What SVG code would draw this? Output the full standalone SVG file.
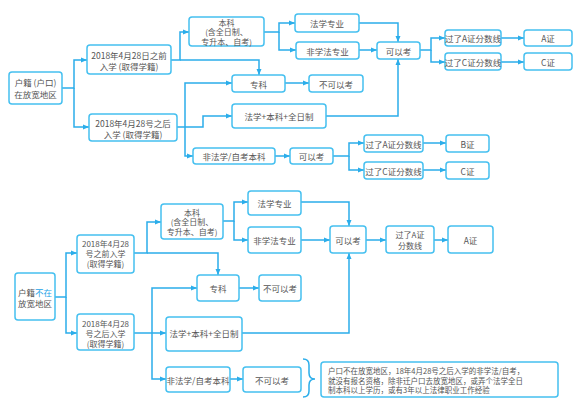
<svg xmlns="http://www.w3.org/2000/svg" width="584" height="415" viewBox="0 0 584 415">
<style>
.b{fill:#fff;stroke:#45c0f0;stroke-width:1.5}
.t{font-family:"Noto Sans CJK SC","Noto Sans",sans-serif;font-size:8.5px;fill:#555;text-anchor:middle;dominant-baseline:central}
.s{font-size:8px}
.n{font-family:"Noto Sans CJK SC","Noto Sans",sans-serif;font-size:7.5px;fill:#555}
.c path{fill:none;stroke:#2badea;stroke-width:1.5}
.c path.a{marker-end:url(#ar)}
</style>
<defs>
<marker id="ar" markerUnits="userSpaceOnUse" markerWidth="7" markerHeight="6" refX="6" refY="3" orient="auto">
<path d="M0,0.5 L6,3 L0,5.5 z" fill="#2badea"/>
</marker>
</defs>
<rect width="584" height="415" fill="#fff"/>
<g class="c" id="connectors">
<path class="a" d="M62,88 H74 V60 H87"/>
<path class="a" d="M74,88 V127 H89"/>
<path class="a" d="M171,60 H180 V32 H189"/>
<path class="a" d="M180,60 H259 V75"/>
<path class="a" d="M264,32 H279 V23 H295"/>
<path class="a" d="M279,32 V50 H296"/>
<path class="a" d="M359,23 H398 V42"/>
<path class="a" d="M359,50 H377"/>
<path class="a" d="M420,50 H431 V38 H445"/>
<path class="a" d="M431,50 V62 H445"/>
<path class="a" d="M501,38 H524"/>
<path class="a" d="M501,62 H524"/>
<path class="a" d="M285,83 H309"/>
<path class="a" d="M177,127 H203 V116 H232"/>
<path class="a" d="M185,127 V83 H232"/>
<path class="a" d="M185,127 V156 H193"/>
<path class="a" d="M326,116 H398 V59"/>
<path class="a" d="M275,156 H290"/>
<path class="a" d="M333,156 H349 V143 H364"/>
<path class="a" d="M349,156 V170 H364"/>
<path class="a" d="M423,143 H446"/>
<path class="a" d="M423,170 H446"/>
<path class="a" d="M55,297 H66 V253 H77"/>
<path class="a" d="M66,297 V333 H77"/>
<path class="a" d="M134,253 H147 V222 H161"/>
<path class="a" d="M147,253 H218 V275"/>
<path class="a" d="M223,221 H234 V202 H248"/>
<path class="a" d="M234,221 V240 H248"/>
<path class="a" d="M301,202 H349 V226"/>
<path class="a" d="M301,240 H330"/>
<path class="a" d="M366,240 H386"/>
<path class="a" d="M434,240 H448"/>
<path class="a" d="M239,288 H259"/>
<path class="a" d="M134,333 H166"/>
<path class="a" d="M152,333 V288 H197"/>
<path class="a" d="M152,333 V379 H166"/>
<path class="a" d="M242,333 H349 V253"/>
<path class="a" d="M230,379 H243"/>
<path d="M303,359 Q309,359 309,365 V373 Q309,379 315,379 Q309,379 309,385 V391 Q309,397 303,397"/>
</g>
<g id="root1"><rect class="b" x="9" y="72" width="53" height="32" rx="3"/><text class="t" x="35.5" y="82">户籍 (户口)</text><text class="t" x="35.5" y="94">在放宽地区</text></g>
<g id="before1"><rect class="b" x="87" y="45" width="84" height="29" rx="3"/><text class="t" x="129" y="55">2018年4月28日之前</text><text class="t" x="129" y="66">入学 (取得学籍)</text></g>
<g id="after1"><rect class="b" x="89" y="114" width="88" height="27" rx="3"/><text class="t" x="133" y="123">2018年4月28号之后</text><text class="t" x="133" y="134">入学 (取得学籍)</text></g>
<g id="benke1"><rect class="b" x="189" y="17" width="75" height="29" rx="3"/><text class="t s" x="226.5" y="22">本科</text><text class="t s" x="226.5" y="31.5">(含全日制、</text><text class="t s" x="226.5" y="41">专升本、自考)</text></g>
<g id="faxue1"><rect class="b" x="295" y="14" width="64" height="18" rx="3"/><text class="t" x="327" y="23">法学专业</text></g>
<g id="feifaxue1"><rect class="b" x="296" y="42" width="63" height="17" rx="3"/><text class="t" x="327.5" y="50.5">非学法专业</text></g>
<g id="keyi1"><rect class="b" x="377" y="42" width="43" height="17" rx="3"/><text class="t" x="398.5" y="50.5">可以考</text></g>
<g id="guoA1"><rect class="b" x="445" y="30" width="56" height="16" rx="3"/><text class="t" x="473" y="38">过了A证分数线</text></g>
<g id="guoC1"><rect class="b" x="445" y="53" width="56" height="17" rx="3"/><text class="t" x="473" y="61.5">过了C证分数线</text></g>
<g id="A1"><rect class="b" x="524" y="30" width="48" height="16" rx="3"/><text class="t" x="548" y="38">A证</text></g>
<g id="C1"><rect class="b" x="524" y="53" width="48" height="17" rx="3"/><text class="t" x="548" y="61.5">C证</text></g>
<g id="zhuanke1"><rect class="b" x="232" y="75" width="53" height="17" rx="3"/><text class="t" x="258.5" y="83.5">专科</text></g>
<g id="bukeyi1"><rect class="b" x="309" y="75" width="54" height="17" rx="3"/><text class="t" x="336" y="83.5">不可以考</text></g>
<g id="fbq1"><rect class="b" x="232" y="104" width="94" height="24" rx="3"/><text class="t" x="279" y="116">法学+本科+全日制</text></g>
<g id="fzk1"><rect class="b" x="193" y="148" width="82" height="16" rx="3"/><text class="t" x="234" y="156">非法学/自考本科</text></g>
<g id="keyi2"><rect class="b" x="290" y="148" width="43" height="16" rx="3"/><text class="t" x="311.5" y="156">可以考</text></g>
<g id="guoA2"><rect class="b" x="364" y="135" width="59" height="17" rx="3"/><text class="t" x="393.5" y="143.5">过了A证分数线</text></g>
<g id="guoC2"><rect class="b" x="364" y="162" width="59" height="17" rx="3"/><text class="t" x="393.5" y="170.5">过了C证分数线</text></g>
<g id="B2"><rect class="b" x="446" y="135" width="43" height="17" rx="3"/><text class="t" x="467.5" y="143.5">B证</text></g>
<g id="C2"><rect class="b" x="446" y="162" width="43" height="17" rx="3"/><text class="t" x="467.5" y="170.5">C证</text></g>
<g id="root2"><rect class="b" x="15" y="273" width="40" height="47" rx="3"/><text class="t" x="35" y="292">户籍<tspan fill="#1aa3e8">不在</tspan></text><text class="t" x="35" y="303">放宽地区</text></g>
<g id="before2"><rect class="b" x="77" y="235" width="57" height="38" rx="3"/><text class="t s" x="105.5" y="243.5">2018年4月28</text><text class="t s" x="105.5" y="253.5">号之前入学</text><text class="t s" x="105.5" y="263.5">(取得学籍)</text></g>
<g id="after2"><rect class="b" x="77" y="314" width="57" height="36" rx="3"/><text class="t s" x="105.5" y="323">2018年4月28</text><text class="t s" x="105.5" y="333">号之后入学</text><text class="t s" x="105.5" y="343">(取得学籍)</text></g>
<g id="benke2"><rect class="b" x="161" y="204" width="62" height="35" rx="3"/><text class="t s" x="192" y="212">本科</text><text class="t s" x="192" y="221.5">(含全日制、</text><text class="t s" x="192" y="231">专升本、自考)</text></g>
<g id="faxue2"><rect class="b" x="248" y="191" width="53" height="24" rx="3"/><text class="t" x="274.5" y="203">法学专业</text></g>
<g id="feifaxue2"><rect class="b" x="248" y="227" width="53" height="26" rx="3"/><text class="t" x="274.5" y="240">非学法专业</text></g>
<g id="keyi3"><rect class="b" x="330" y="226" width="36" height="27" rx="3"/><text class="t" x="348" y="239.5">可以考</text></g>
<g id="guoA3"><rect class="b" x="386" y="226" width="48" height="27" rx="3"/><text class="t s" x="410" y="234.5">过了A证</text><text class="t s" x="410" y="245">分数线</text></g>
<g id="A3"><rect class="b" x="448" y="226" width="45" height="27" rx="3"/><text class="t" x="470.5" y="239.5">A证</text></g>
<g id="zhuanke2"><rect class="b" x="197" y="275" width="42" height="26" rx="3"/><text class="t" x="218" y="288">专科</text></g>
<g id="bukeyi2"><rect class="b" x="259" y="275" width="42" height="26" rx="3"/><text class="t" x="280" y="288">不可以考</text></g>
<g id="fbq2"><rect class="b" x="166" y="317" width="76" height="34" rx="3"/><text class="t" x="204" y="333">法学+本科+全日制</text></g>
<g id="fzk2"><rect class="b" x="166" y="367" width="64" height="25" rx="3"/><text class="t" x="198" y="379.5">非法学/自考本科</text></g>
<g id="bukeyi3"><rect class="b" x="243" y="367" width="58" height="25" rx="3"/><text class="t" x="272" y="379.5">不可以考</text></g>
<g id="note"><rect class="b" x="321" y="362" width="237" height="35" rx="3"/>
<text class="n" x="328" y="374">户口不在放宽地区，18年4月28号之后入学的非学法/自考，</text>
<text class="n" x="328" y="383.5">就没有报名资格，除非迁户口去放宽地区，或弄个法学全日</text>
<text class="n" x="328" y="393">制本科以上学历，或有3年以上法律职业工作经验</text></g>
</svg>
